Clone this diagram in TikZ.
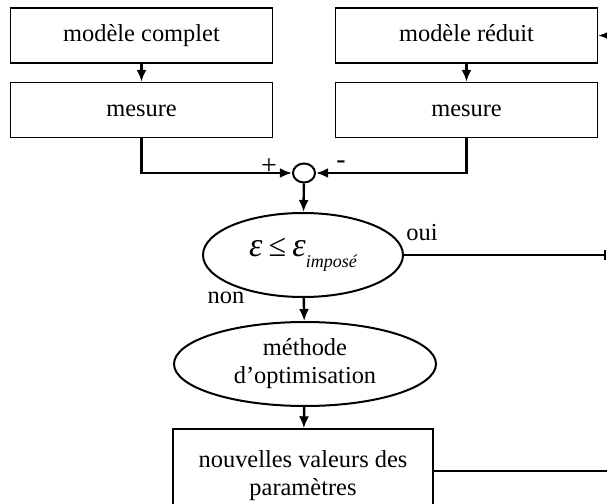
\documentclass[tikz,border=0pt]{standalone}
\usepackage{fontspec}
\setmainfont{Liberation Serif}
\usetikzlibrary{arrows.meta,shapes.geometric}
\begin{document}
\begin{tikzpicture}[x=0.5pt,y=-0.5pt,
  txt/.style={font=\fontsize{12.2}{14}\selectfont},
  box/.style={draw,line width=0.7pt,minimum width=131pt,minimum height=27.5pt,inner sep=0pt,txt},
  single/.style={text height=8.3pt,text depth=2.2pt},
  oval/.style={draw,ellipse,line width=1pt,inner sep=0pt,txt},
  conn/.style={line width=1.2pt},
  thinconn/.style={line width=0.8pt},
  arr/.style={conn,-{Latex[length=6pt,width=5pt]}},
  lbl/.style={txt,inner sep=0pt}
]
\useasboundingbox (0,0) rectangle (607,504);
\clip (0,0) rectangle (607,504);

\node[box,single] (mc) at (141.5,35.5) {modèle complet};
\node[box,single] (m1) at (141.5,110) {mesure};
\node[box,single] (mr) at (466.5,35.5) {modèle réduit};
\node[box,single] (m2) at (466.5,110) {mesure};
\node[oval,minimum width=11pt,minimum height=9.5pt] (s) at (304,173) {};
\node[oval,minimum width=100pt,minimum height=42pt] (e) at (303,255)
  {{\fontsize{17}{20}\selectfont\itshape ε} {\fontsize{16}{20}\selectfont ≤} {\fontsize{17}{20}\selectfont\itshape ε}\raisebox{-5.5pt}{\fontsize{9}{10}\selectfont\itshape imposé}};
\node[oval,minimum width=131pt,minimum height=42pt,align=center] (o) at (305,364) {méthode\\d’optimisation};
\node[box,minimum width=130pt,minimum height=46.5pt,align=center] (n) at (303,475.5) {nouvelles valeurs des\\paramètres};

\coordinate (rin) at (607,35.5);
\coordinate (eo) at (606,255);
\coordinate (nout) at (607,471);

\draw[arr] (mc) -- (m1);
\draw[arr] (mr) -- (m2);
\draw[arr] (m1.south) |- (s.west);
\draw[arr] (m2.south) |- (s.east);
\draw[arr] (s) -- (e);
\draw[arr] (e) -- (o);
\draw[arr] (o) -- (n);
\draw[conn,-{Bar[width=5pt]}] (e.east) -- (eo);
\draw[arr] (rin) -- (mr.east);
\draw[thinconn] (n.east |- nout) -- (nout);

\node[lbl,font=\fontsize{14}{16}\selectfont] (plus) at (269,167) {+};
\node[lbl,font=\fontsize{14}{16}\selectfont] (minus) at (341,165) {-};
\node[lbl] (oui) at (422,233) {oui};
\node[lbl] (non) at (226,298) {non};
\end{tikzpicture}
\end{document}
